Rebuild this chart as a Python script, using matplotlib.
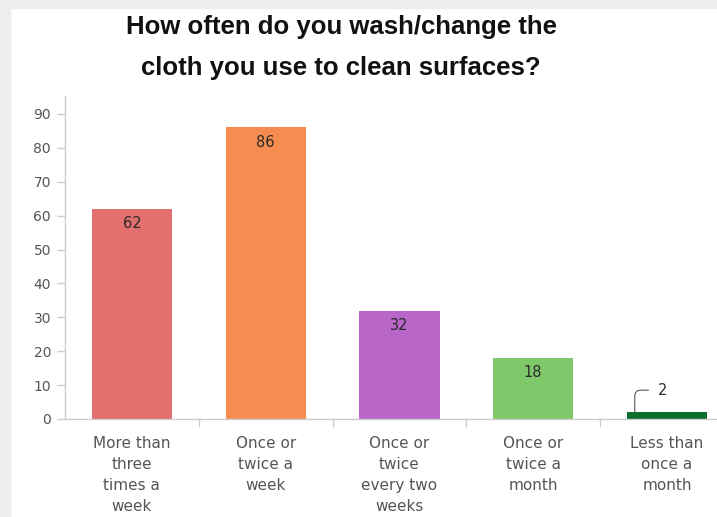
import matplotlib
matplotlib.use("Agg")
import matplotlib.pyplot as plt
from matplotlib.patches import Rectangle

categories = ["More than\nthree\ntimes a\nweek", "Once or\ntwice a\nweek",
              "Once or\ntwice\nevery two\nweeks", "Once or\ntwice a\nmonth",
              "Less than\nonce a\nmonth"]
values = [62, 86, 32, 18, 2]
colors = ["#E46F6F", "#F78C51", "#B866C8", "#80C96A", "#0A6E2C"]
yticks = [0, 10, 20, 30, 40, 50, 60, 70, 80, 90]
title_lines = ["How often do you wash/change the", "cloth you use to clean surfaces?"]

plt.rcParams['font.family'] = ['DejaVu Sans']

W, H = 717, 517
fig = plt.figure(figsize=(W/100, H/100), dpi=100)
fig.patch.set_facecolor("white")

# light grey frame at top/left
fig.patches.append(Rectangle((0, 1 - 8/H), 1, 8/H, transform=fig.transFigure,
                             color="#EEEEEE", zorder=0))
fig.patches.append(Rectangle((0, 0), 10/W, 1, transform=fig.transFigure,
                             color="#EEEEEE", zorder=0))

ax_left, ax_right = 65, 717
ax_bottom, ax_top = 419, 96
step = 133.75
ax = fig.add_axes([ax_left/W, (H-ax_bottom)/H, (ax_right-ax_left)/W, (ax_bottom-ax_top)/H])
ax.set_facecolor("none")
x0 = -0.5
ax.set_xlim(x0, x0 + (ax_right-ax_left)/step)
ax.set_ylim(0, (ax_bottom-ax_top)/3.39)

xs = list(range(len(values)))
ax.bar(xs, values, width=0.6, color=colors, zorder=2)

for i, v in enumerate(values):
    if v >= 10:
        ax.text(i, v - 4.4, str(v), ha="center", va="center", fontsize=10.5, color="#2A2A2A")
    else:
        ax.annotate(str(v), xy=(i - 0.24, v), xytext=(i - 0.03, v + 6.5),
                    ha="center", va="center", fontsize=10.5, color="#2A2A2A",
                    arrowprops=dict(arrowstyle="-", color="#555555", lw=0.8,
                                    connectionstyle="angle,angleA=0,angleB=90,rad=6",
                                    shrinkA=5, shrinkB=0))

for s in ["top", "right"]:
    ax.spines[s].set_visible(False)
for s in ["left", "bottom"]:
    ax.spines[s].set_color("#CCCCCC")
    ax.spines[s].set_linewidth(1.0)

ax.set_yticks(yticks)
ax.set_yticklabels([str(t) for t in yticks])
ax.tick_params(axis="y", colors="#CCCCCC", labelcolor="#555555", labelsize=10,
               length=6, width=1, pad=4)

ax.set_xticks(xs)
ax.set_xticklabels(categories, linespacing=1.5)
ax.tick_params(axis="x", length=0, labelcolor="#555555", labelsize=11, pad=12)
# boundary ticks
for b in [0.5, 1.5, 2.5, 3.5]:
    ax.plot([b, b], [0, -2.2], color="#CCCCCC", lw=1, clip_on=False, zorder=1)

fig.text(341/W, 1 - 27/H, title_lines[0], ha="center", va="center",
         fontsize=18.5, fontweight="bold", color="#111111", family="Liberation Sans")
fig.text(341/W, 1 - 68/H, title_lines[1], ha="center", va="center",
         fontsize=18.5, fontweight="bold", color="#111111", family="Liberation Sans")

fig.savefig("out.png", dpi=100, facecolor="white")
